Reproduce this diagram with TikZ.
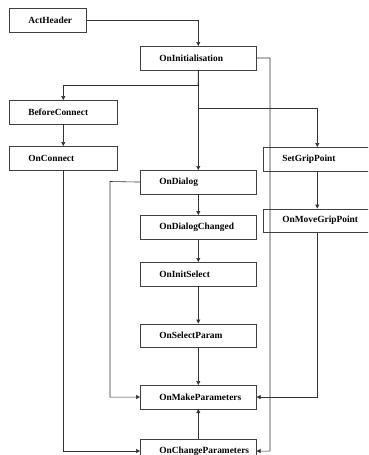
\documentclass[tikz,border=0pt]{standalone}
\usepackage{fontspec}
\setmainfont{Liberation Serif}
\usetikzlibrary{arrows.meta}
\begin{document}
\begin{tikzpicture}[x=1pt,y=-1pt,
  box/.style={draw=black!75,line width=0.6pt,anchor=north west,minimum height=23.5pt,
    inner ysep=0pt,inner xsep=19pt,align=left,
    font=\fontsize{9.4}{10}\selectfont\bfseries},
  wA/.style={text width=78pt},
  wB/.style={text width=70pt},
  wC/.style={text width=39pt},
  conn/.style={draw=black!80,line width=0.6pt},
  arr/.style={conn,-{Triangle[length=4pt,width=4pt]}}]
\useasboundingbox (0,0) rectangle (368,455);
\clip (0,0) rectangle (368,455);
\fill[white] (0,0) rectangle (368,455);
\node[box,wC] (act) at (9,8) {ActHeader};
\node[box,wA] (init) at (140,46) {OnInitialisation};
\node[box,wB] (bc) at (9,100) {BeforeConnect};
\node[box,wB] (oc) at (9,146) {OnConnect};
\node[box,wB] (sgp) at (263,147) {SetGripPoint};
\node[box,wA] (od) at (140,170) {OnDialog};
\node[box,wB] (omgp) at (263,208.5) {OnMoveGripPoint};
\node[box,wA] (odc) at (140,215) {OnDialogChanged};
\node[box,wA] (ois) at (140,262) {OnInitSelect};
\node[box,wA] (osp) at (140,323.5) {OnSelectParam};
\node[box,wA] (omp) at (140,385) {OnMakeParameters};
\node[box,wA] (ocp) at (140,439) {OnChangeParameters};
\coordinate (b1) at (198,85);
\coordinate (b2) at (198,108);
\coordinate (r1) at (270,58);
\coordinate (l1) at (110,181.5);
\draw[arr] (act.east) -| (init.north);
\draw[conn] (init.south) -- (b1);
\draw[arr] (b1) -| (bc.north);
\draw[arr] (bc.south) -- (oc.north);
\draw[arr] (init.south) -- (od.north);
\draw[arr] (b2) -| (sgp.north);
\draw[arr] (sgp.south) -- (omgp.north);
\draw[arr] (init.east) -- (r1) |- (ocp.east);
\draw[arr] (od.west) -- (l1) |- (omp.west);
\draw[arr] (od.south) -- (odc.north);
\draw[arr] (odc.south) -- (ois.north);
\draw[arr] (ois.south) -- (osp.north);
\draw[arr] (osp.south) -- (omp.north);
\draw[arr] (omgp.south) |- (omp.east);
\draw[arr] (oc.south) |- (ocp.west);
\draw[arr] (ocp.north) -- (omp.south);
\end{tikzpicture}
\end{document}
